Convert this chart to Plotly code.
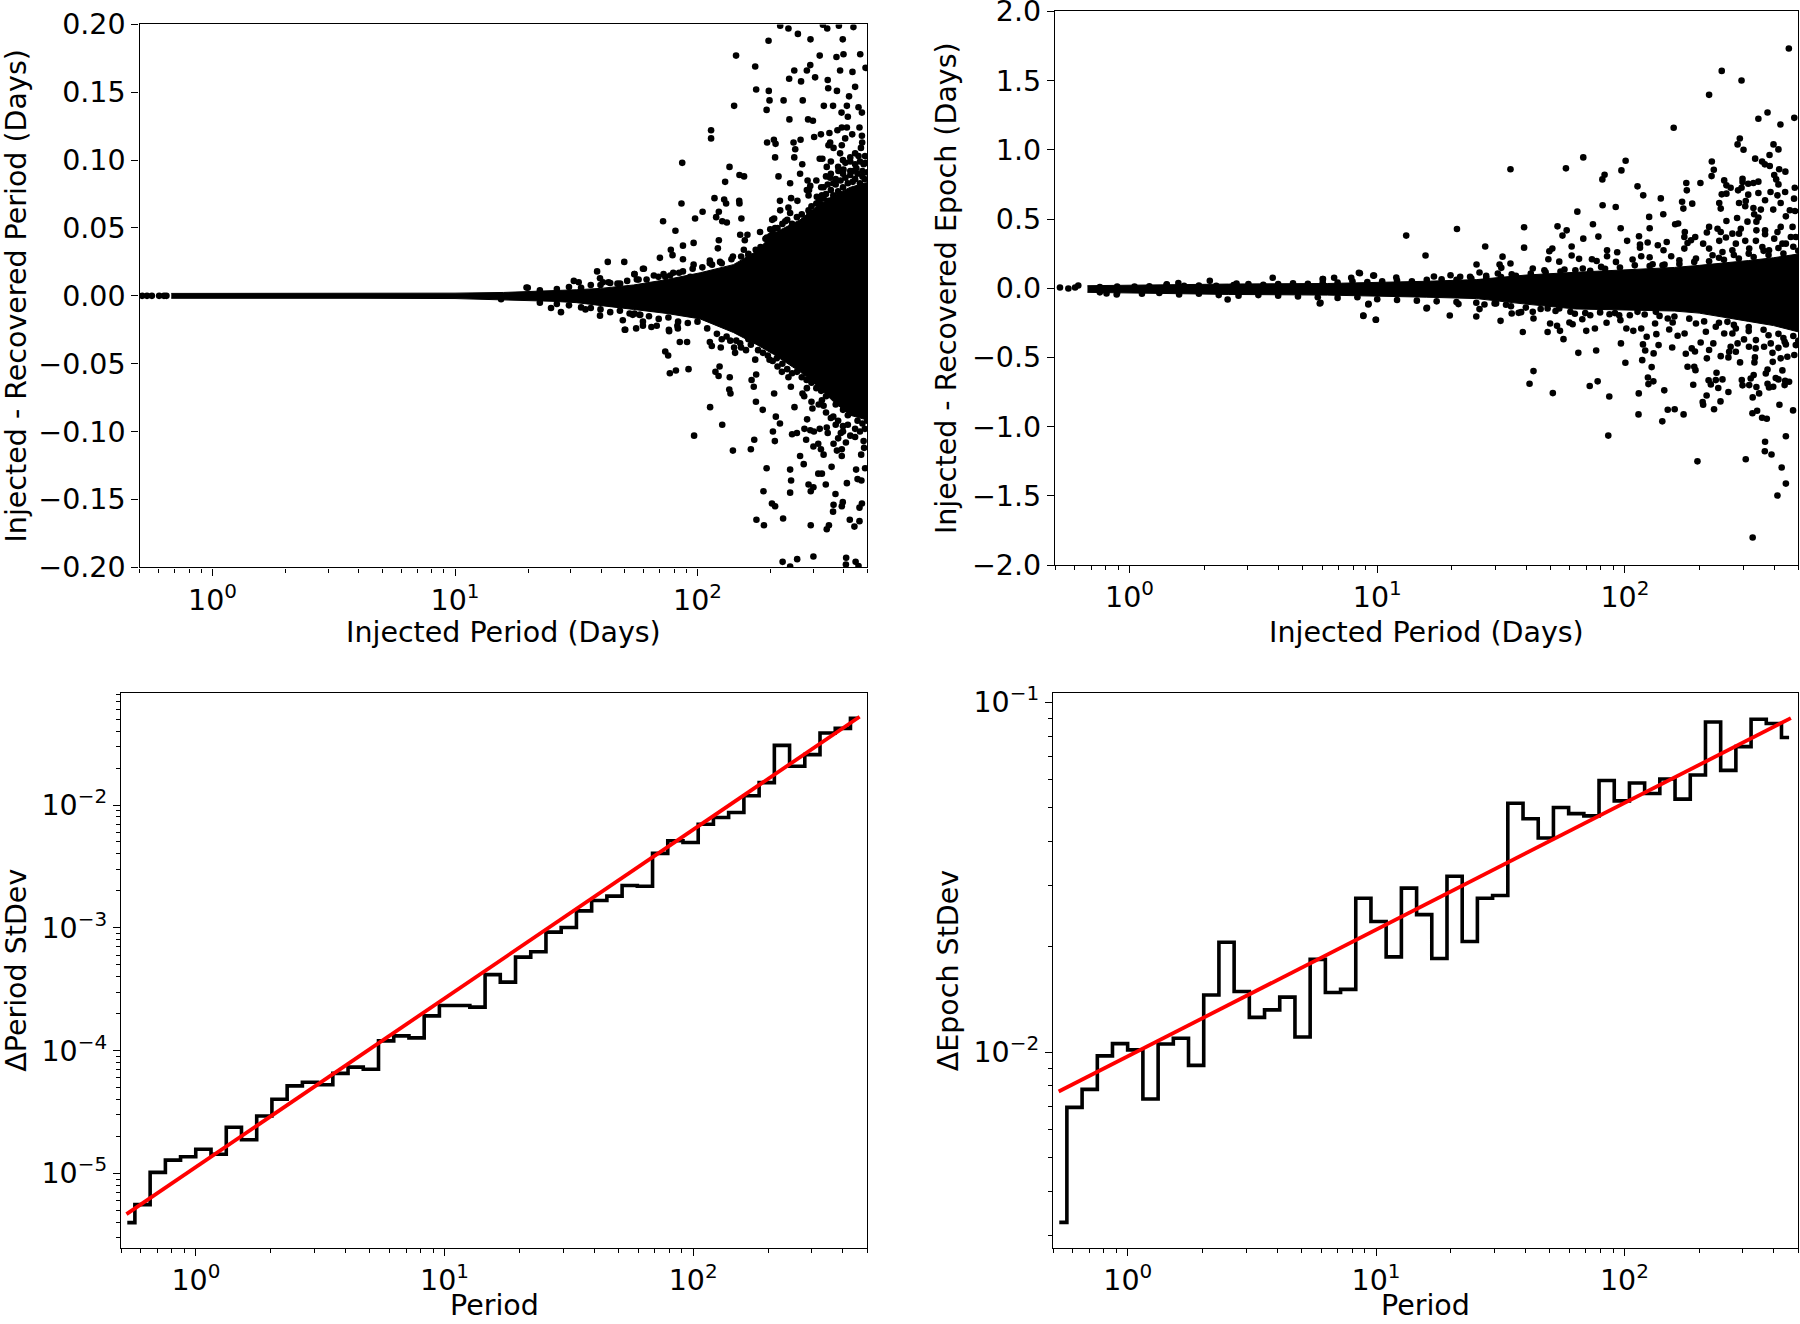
import plotly.graph_objects as go

W, H = 1800, 1324

# Histogram bin centres (days) shared by both lower panels
bin_period = [0.530,0.610,0.703,0.809,0.931,1.072,1.235,1.422,1.637,1.885,2.170,2.499,2.877,3.313,3.814,4.392,5.057,5.823,6.704,7.719,8.888,10.23,11.78,13.57,15.62,17.98,20.71,23.84,27.45,31.61,36.40,41.91,48.25,55.56,63.97,73.65,84.80,97.64,112.4,129.4,149.0,171.6,197.6,227.5,261.9,301.6,347.2,399.8,460.3]

period_stdev = [3.98e-6,5.57e-6,1.02e-5,1.285e-5,1.368e-5,1.574e-5,1.432e-5,2.38e-5,1.88e-5,2.94e-5,4.02e-5,5.16e-5,5.53e-5,5.28e-5,6.53e-5,7.34e-5,7.06e-5,1.20e-4,1.32e-4,1.27e-4,1.92e-4,2.33e-4,2.33e-4,2.26e-4,4.16e-4,3.61e-4,5.77e-4,6.39e-4,9.23e-4,1.005e-3,1.374e-3,1.67e-3,1.81e-3,2.21e-3,2.18e-3,4.04e-3,5.11e-3,4.95e-3,6.98e-3,7.91e-3,8.69e-3,1.19e-2,1.52e-2,3.06e-2,2.07e-2,2.57e-2,3.86e-2,4.21e-2,5.08e-2]

epoch_stdev = [3.26e-3,6.95e-3,7.82e-3,9.75e-3,1.057e-2,1.014e-2,7.34e-3,1.054e-2,1.095e-2,9.16e-3,1.455e-2,2.06e-2,1.49e-2,1.256e-2,1.32e-2,1.435e-2,1.104e-2,1.84e-2,1.48e-2,1.51e-2,2.75e-2,2.36e-2,1.87e-2,2.94e-2,2.47e-2,1.85e-2,3.18e-2,2.07e-2,2.75e-2,2.80e-2,5.14e-2,4.64e-2,4.09e-2,5.00e-2,4.80e-2,4.73e-2,5.97e-2,5.22e-2,5.87e-2,5.48e-2,6.03e-2,5.28e-2,6.19e-2,8.77e-2,6.38e-2,7.46e-2,8.93e-2,8.69e-2,7.92e-2]

fit_period = [0.526, 467]
fit_period_stdev = [4.66e-6, 5.23e-2]
fit_epoch_period = [0.527, 468]
fit_epoch_stdev = [7.71e-3, 9.0e-2]

# Dense core of the scatter, read as an envelope: log10(period), upper, lower
core1_logp = [-0.17,0.6,1.0,1.2,1.4,1.5,1.6,1.736,1.874,2.011,2.148,2.245,2.313,2.423,2.492,2.561,2.63,2.71]
core1_up = [.0018,.0018,.002,.0025,.0035,.0045,.0055,.008,.012,.017,.023,.033,.046,.056,.066,.074,.080,.084]
core1_lo = [-.0018,-.0018,-.002,-.003,-.004,-.005,-.007,-.010,-.013,-.017,-.027,-.036,-.043,-.056,-.066,-.078,-.088,-.092]

core2_logp = [-0.17,0.0,0.4,0.8,1.0,1.2,1.4,1.6,1.8,2.0,2.2,2.3,2.4,2.5,2.6,2.71]
core2_up = [.018,.022,.03,.034,.04,.05,.062,.095,.115,.13,.15,.165,.18,.20,.22,.25]
core2_lo = [-.030,-.038,-.045,-.05,-.055,-.065,-.075,-.115,-.15,-.16,-.165,-.18,-.21,-.24,-.27,-.32]

# Individually visible points: (log10 injected period, residual)
period_row = [(-0.29,0),(-0.27,0),(-0.25,0),(-0.22,0),(-0.20,0),(-0.19,0),(1.19,-.0025),(1.30,.006)]
period_above = [(2.341,.199),(2.375,.197),(2.414,.193),(2.466,.189),(2.293,.188),(2.599,.189),(2.535,.197),(2.583,.199),(2.643,.198),(2.517,.1997),
(2.159,.177),(2.238,.169),(2.504,.177),(2.573,.176),(2.602,.178),(2.671,.178),(2.693,.168),(2.465,.170),(2.451,.166),(2.399,.166),(2.588,.166),(2.639,.165),
(2.378,.160),(2.427,.158),(2.485,.161),(2.537,.159),(2.539,.153),(2.575,.151),(2.650,.154),(2.625,.147),(2.242,.152),(2.294,.151),(2.297,.144),(2.355,.144),(2.434,.144),
(2.151,.140),(2.285,.137),(2.521,.140),(2.559,.140),(2.616,.140),(2.594,.135),(2.664,.139),(2.678,.135),(2.620,.132),(2.379,.130),(2.456,.130),(2.476,.129),(2.056,.122),(2.056,.116),
(2.668,.124),(2.616,.124),(2.595,.124),(2.577,.122),(2.544,.120),(2.509,.119),(2.481,.117),(2.638,.119),(2.678,.118),(2.609,.116),(2.679,.113),(2.425,.115),(2.396,.113),(2.315,.115),(2.287,.113),(2.322,.112),
(2.547,.113),(2.540,.111),(2.595,.111),(2.561,.109),(2.674,.109),(2.403,.108),(2.588,.105),(2.320,.102),(2.399,.102),(2.504,.101),(2.515,.101),(2.550,.099),(2.533,.095),(2.650,.105),(2.664,.103),(2.691,.103),
(2.630,.099),(2.650,.097),(2.693,.098),(2.432,.097),(1.937,.098),(2.132,.095),(2.423,.090),(2.173,.089),(2.192,.088),(2.334,.088),(2.114,.084),(2.382,.083),(2.454,.085),(2.465,.081),(2.451,.078),(2.547,.087),(2.537,.082),
(2.581,.092),(2.602,.093),(2.630,.092),(2.680,.092),(2.458,.074),(2.070,.072),(2.110,.071),(2.118,.068),(2.172,.070),(2.173,.068),(1.934,.068),(2.340,.070),(2.386,.072),(2.412,.070),(2.492,.073),(2.513,.074),
(2.021,.062),(2.088,.062),(2.077,.058),(1.990,.057),(2.102,.055),(2.121,.054),(2.181,.057),(1.858,.055),(1.909,.048),(2.341,.063),(2.375,.065),(2.382,.061),(2.308,.056),(2.316,.057),(2.362,.055),(2.458,.063),(2.506,.068),
(2.258,.047),(2.300,.049),(2.320,.050),(2.176,.045),(2.206,.045),(2.195,.041),(2.286,.043),(2.348,.046),(1.984,.039),(2.088,.041),(1.940,.037),(2.084,.035),(1.890,.034),(1.897,.030),(2.191,.034),(1.845,.028),(1.940,.027),
(1.984,.023),(2.051,.026),(2.051,.024),(2.093,.025),(2.146,.029),(2.210,.030),(2.245,.033),(1.630,.025),(1.698,.025),(1.779,.020),(1.740,.016),(1.757,.012),(1.839,.014),(1.867,.014),(1.887,.015),(1.924,.017),(1.970,.014),
(1.633,.010),(1.681,.009),(1.49,.011),(1.51,.010),(1.295,.0062),(1.586,.018),(1.598,.013),(1.61,.010),(1.775,.020),(1.74,.016)]
period_below = [(1.396,-.009),(1.437,-.012),(1.538,-.010),(1.598,-.0146),(1.70,-.025),(1.747,-.024),(1.775,-.022),(1.81,-.023),(1.882,-.025),(1.692,-.018),(1.74,-.013),(1.917,-.022),
(1.702,-.025),(1.775,-.019),(1.832,-.022),(1.883,-.026),(1.919,-.024),(1.733,-.014),(1.764,-.014),(1.927,-.034),(1.957,-.034),(1.867,-.041),(1.879,-.044),(1.886,-.057),(1.911,-.055),(1.963,-.054),
(2.051,-.034),(2.059,-.037),(2.096,-.038),(2.135,-.033),(2.151,-.038),(2.155,-.042),(2.176,-.035),(2.21,-.032),(2.091,-.052),(2.074,-.056),(2.087,-.059),(2.133,-.060),(2.131,-.069),(2.136,-.072),(2.052,-.082),(2.102,-.095),(1.986,-.103),
(2.146,-.114),(2.220,-.113),(2.234,-.106),(2.241,-.078),(2.269,-.084),(2.316,-.072),(2.323,-.089),(2.340,-.094),(2.311,-.100),(2.319,-.107),(2.223,-.062),(2.232,-.067),(2.242,-.058),(2.238,-.047),(2.297,-.047),(2.327,-.046),
(2.348,-.056),(2.375,-.060),(2.385,-.067),(2.400,-.082),(2.474,-.083),(2.433,-.072),(2.451,-.068),(2.513,-.077),(2.520,-.081),(2.452,-.091),(2.441,-.098),(2.465,-.099),(2.480,-.100),(2.504,-.098),(2.533,-.097),(2.537,-.101),(2.591,-.101),
(2.390,-.102),(2.410,-.101),(2.448,-.106),(2.478,-.111),(2.498,-.109),(2.509,-.113),(2.520,-.117),(2.561,-.109),(2.575,-.114),(2.595,-.118),(2.612,-.108),(2.595,-.113),(2.685,-.107),(2.687,-.112),(2.675,-.117),(2.691,-.127),(2.654,-.128),
(2.423,-.118),(2.438,-.124),(2.553,-.126),(2.285,-.127),(2.382,-.128),(2.386,-.136),(2.382,-.145),(2.272,-.144),(2.307,-.153),(2.320,-.155),(2.353,-.164),(2.243,-.165),(2.274,-.169),(2.458,-.139),(2.478,-.141),(2.467,-.144),(2.498,-.131),(2.513,-.131),
(2.529,-.139),(2.569,-.146),(2.616,-.138),(2.660,-.135),(2.676,-.136),(2.561,-.154),(2.559,-.159),(2.599,-.152),(2.595,-.155),(2.678,-.153),(2.668,-.156),(2.467,-.169),(2.542,-.169),(2.533,-.172),(2.628,-.165),(2.647,-.170),(2.668,-.166),
(2.351,-.196),(2.411,-.194),(2.478,-.192),(2.613,-.193),(2.612,-.198),(2.652,-.196),(2.664,-.199),(2.382,-.1995)]

# Points crowding the edge of the dense core
period_edge_up = [(1.35,.004),(1.42,.005),(1.47,.0065),(1.52,.006),(1.56,.008),(1.60,.008),(1.64,.0095),(1.67,.009),(1.71,.011),(1.75,.012),(1.79,.012),(1.82,.015),(1.86,.016),(1.90,.017),(1.94,.018),(1.98,.020),(2.02,.021),(2.06,.023),(2.10,.024),(2.14,.027),(2.18,.029),(2.21,.031),(2.24,.034),
(2.26,.036),(2.28,.042),(2.30,.044),(2.31,.047),(2.33,.050),(2.35,.053),(2.37,.056),(2.39,.053),(2.41,.058),(2.43,.060),(2.44,.055),(2.46,.062),(2.47,.066),(2.48,.060),(2.50,.070),(2.51,.066),(2.52,.072),(2.53,.075),(2.54,.070),(2.55,.078),(2.56,.074),(2.57,.082),(2.58,.077),(2.59,.085),(2.60,.080),(2.61,.087),(2.62,.083),(2.63,.089),(2.64,.084),(2.65,.086),(2.66,.090),(2.67,.083),(2.68,.088),(2.69,.086),(2.70,.091),(2.52,.080),(2.49,.068),(2.56,.083),(2.60,.090),(2.64,.092),
(2.46,.078),(2.49,.085),(2.51,.080),(2.55,.090),(2.58,.095),(2.61,.098),(2.63,.102),(2.655,.094),(2.67,.099),(2.685,.097),(2.60,.100),(2.57,.086),(2.53,.088)]
period_edge_lo = [(1.35,-.005),(1.42,-.006),(1.47,-.007),(1.52,-.0085),(1.56,-.009),(1.60,-.010),(1.64,-.012),(1.68,-.011),(1.72,-.013),(1.76,-.014),(1.80,-.015),(1.84,-.017),(1.88,-.016),(1.92,-.019),(1.96,-.020),(2.0,-.019),(2.04,-.024),(2.08,-.028),
(2.10,-.032),(2.12,-.030),(2.16,-.033),(2.18,-.038),(2.20,-.040),(2.22,-.036),(2.25,-.040),(2.27,-.042),(2.29,-.044),(2.31,-.048),(2.33,-.052),(2.35,-.050),(2.37,-.054),(2.39,-.057),(2.41,-.056),(2.43,-.060),(2.45,-.062),(2.47,-.064),(2.49,-.068),(2.51,-.070),(2.53,-.074),(2.55,-.072),(2.57,-.080),(2.59,-.079),(2.60,-.084),(2.62,-.088),(2.64,-.086),(2.66,-.092),(2.68,-.094),(2.70,-.092),(2.56,-.089),(2.58,-.092),(2.60,-.096),(2.62,-.095),(2.65,-.098),
(2.50,-.080),(2.53,-.086),(2.55,-.090),(2.57,-.095),(2.60,-.100),(2.63,-.103),(2.65,-.104),(2.67,-.100),(2.69,-.098),(2.47,-.078),(2.44,-.074),(2.58,-.105)]

epoch_row = [(-0.281,.005),(-0.247,-.002),(-0.22,.005),(-0.207,.02),(0.324,.053),(0.396,-.082),(0.15,.029),(0.197,.038),(0.432,.034),(-0.052,-.046),(-0.093,-.038),(0.771,-.106),(0.944,-.197),(0.995,-.228),(0.965,-.112),(0.984,.091),(0.926,.112),(0.78,.067),(1.199,-.146)]
epoch_above = [(2.662,1.732),(2.391,1.570),(2.471,1.501),(2.340,1.397),(2.576,1.270),(2.539,1.224),(2.684,1.231),(2.628,1.183),(2.197,1.159),(2.464,1.082),(2.455,1.039),(2.479,1.000),(2.600,1.039),(2.620,1.003),(2.584,.962),(2.526,.936),(2.554,.916),(2.565,.895),(2.585,.883),
(1.832,.945),(1.762,.866),(2.003,.921),(1.986,.851),(1.918,.820),(1.909,.786),(2.351,.916),(2.359,.856),(2.350,.810),(2.623,.859),(2.648,.842),(2.603,.818),(2.611,.786),(2.620,.750),(2.051,.736),(2.074,.671),(2.248,.760),(2.250,.707),(2.305,.760),
(2.401,.779),(2.410,.743),(2.427,.726),(2.475,.791),(2.475,.767),(2.498,.755),(2.519,.760),(2.539,.770),(2.457,.707),(2.471,.726),(2.498,.676),(2.539,.688),(2.588,.695),(2.647,.695),(2.616,.671),(2.686,.726),(2.683,.647),(2.391,.678),(2.410,.683),(2.566,.635),
(2.145,.649),(2.231,.625),(2.272,.611),(2.381,.616),(2.387,.575),(2.461,.616),(2.488,.630),(2.486,.592),(1.910,.599),(1.963,.587),(1.808,.553),(2.236,.575),(2.519,.580),(2.549,.568),(2.599,.568),(2.629,.616),(2.666,.563),(2.687,.558),
(2.098,.515),(2.155,.534),(2.453,.507),(2.522,.534),(2.539,.510),(2.650,.519),(1.871,.462),(1.593,.440),(1.728,.447),(1.765,.418),(1.748,.380),(1.983,.433),(2.100,.433),(2.203,.462),(2.215,.467),(2.410,.486),(2.495,.481),(2.531,.481),
(1.832,.358),(1.893,.373),(2.057,.375),(2.009,.342),(1.593,.293),(1.785,.301),(1.707,.286),(1.695,.267),(2.092,.330),(2.169,.334),(2.061,.315),(2.061,.293),(2.133,.310),(2.156,.274),(1.928,.274),(1.969,.260),(1.691,.209),(1.785,.236),(1.735,.192),(1.815,.212),(1.867,.209),(1.886,.197),(1.928,.231),(2.100,.224),(2.066,.231),(2.187,.231),(2.220,.202),
(2.242,.406),(2.240,.370),(2.284,.370),(2.267,.346),(2.253,.327),(2.316,.322),(2.340,.443),(2.331,.402),(2.374,.430),(2.387,.406),(2.408,.366),(2.381,.342),(2.434,.394),(2.468,.430),(2.461,.394),(2.486,.342),(2.529,.342),(2.531,.418),(2.566,.418),(2.566,.390),(2.603,.358),(2.629,.443),(2.616,.406),(2.677,.443),(2.670,.370),(2.650,.322),(2.690,.370),(2.240,.286),(2.340,.286),(2.448,.322),(2.555,.298),
(1.628,.142),(1.675,.130),(1.756,.135),(1.830,.142),(1.904,.154),(1.964,.190),(2.031,.207),(2.112,.173),(2.152,.166),(2.287,.214),(2.354,.238),(2.394,.262),(2.434,.274),(2.502,.286),(2.582,.274),(2.636,.322),
(1.538,.859),(1.322,.428),(1.117,.380),(1.436,.301),(1.195,.236),(1.506,.228),(1.401,.171),(1.538,.178),(1.494,.171),(1.501,.147),(1.413,.113),(0.930,.108),(0.987,.091),(0.578,.075),(0.781,.067),(0.826,.075),(0.895,.075),(1.296,.094),(1.335,.082),(1.229,.084),(1.077,.077),(1.375,.082),(1.440,.089),(1.487,.106),(1.543,.101)]
epoch_below = [(0.768,-.111),(0.964,-.118),(0.944,-.200),(0.994,-.228),(1.201,-.142),(1.293,-.197),(1.400,-.204),(1.498,-.236),(1.328,-.115),(1.413,-.151),(1.433,-.118),(1.543,-.183),(1.571,-.178),(1.474,-.11),(1.52,-.12),
(2.516,-1.801),(2.616,-1.498),(2.650,-1.412),(2.633,-1.296),(2.293,-1.251),(2.488,-1.236),(2.565,-1.178),(2.592,-1.202),(2.566,-1.109),(2.650,-1.070),(1.933,-1.065),(2.151,-.962),(2.055,-.912),(2.173,-.878),(2.201,-.875),(2.237,-.912),(1.937,-.782),(2.056,-.760),(1.709,-.758),(1.615,-.690),(1.631,-.599),(1.858,-.707),(1.890,-.673),
(1.812,-.467),(1.884,-.450),(1.984,-.399),(2.002,-.539),(2.070,-.520),(2.082,-.450),(2.073,-.406),(2.088,-.351),(2.127,-.332),(2.116,-.471),(2.136,-.411),(2.108,-.570),(2.093,-.645),(2.115,-.673),(2.095,-.693),(2.159,-.738),(2.191,-.428),(2.213,-.344),(2.241,-.327),(2.246,-.474),(2.270,-.435),(2.283,-.457),(2.306,-.392),
(2.253,-.568),(2.280,-.568),(2.285,-.592),(2.276,-.698),(2.330,-.775),(2.314,-.823),(2.316,-.842),(2.360,-.875),(2.386,-.818),(2.418,-.750),(2.370,-.611),(2.338,-.666),(2.347,-.695),(2.367,-.664),(2.377,-.721),(2.394,-.659),(2.331,-.507),(2.340,-.447),(2.357,-.399),(2.387,-.491),(2.418,-.500),(2.421,-.459),(2.427,-.423),(2.448,-.459),(2.455,-.399),(2.481,-.370),
(2.465,-.536),(2.525,-.500),(2.523,-.536),(2.472,-.664),(2.475,-.702),(2.502,-.700),(2.508,-.652),(2.520,-.628),(2.531,-.714),(2.542,-.760),(2.516,-.789),(2.515,-.904),(2.534,-.885),(2.554,-.936),(2.573,-.943),(2.624,-.842),(2.679,-.883),(2.576,-.690),(2.582,-.717),(2.599,-.712),(2.569,-.616),(2.576,-.587),(2.597,-.532),(2.636,-.594),(2.609,-.649),(2.620,-.659),(2.647,-.669),(2.663,-.676),(2.645,-.700),
(2.629,-.507),(2.656,-.495),(2.620,-.431),(2.645,-.387),(2.650,-.406),(2.596,-.467),(2.528,-.435),(2.501,-.423),(2.562,-.423),(2.589,-.399),(2.529,-.375),(2.690,-.411),(2.684,-.483),(1.588,-.317),(1.688,-.317),(1.631,-.219),(1.738,-.308),(1.752,-.368),(1.698,-.255),(1.726,-.272),(1.776,-.248),(1.789,-.260),(1.828,-.224),(1.844,-.308),(1.879,-.291),(1.926,-.250),(1.982,-.231),(2.006,-.291),(2.034,-.308),(2.066,-.291),(2.122,-.255),(2.179,-.298),(2.193,-.248),(2.173,-.219),
(1.798,-.185),(1.860,-.195),(1.938,-.188),(1.977,-.195),(1.581,-.173),(1.628,-.171),(1.688,-.147),(1.735,-.147),(2.051,-.171),(2.125,-.171),(2.287,-.255),(2.327,-.315),(2.367,-.279),(2.401,-.327),(2.434,-.327),(2.448,-.291),(2.414,-.243)]

epoch_edge_up = [(-0.12,.008),(-0.05,.012),(0.02,.012),(0.08,.014),(0.15,.025),(0.22,.018),(0.28,.02),(0.35,.018),(0.42,.022),(0.48,.03),(0.54,.025),(0.60,.03),(0.66,.035),(0.72,.032),(0.78,.04),(0.84,.04),(0.90,.05),(0.96,.045),(1.02,.05),(1.08,.055),(1.14,.05),(1.2,.06),(1.26,.065),(1.32,.06),(1.38,.07),(1.44,.075),(1.5,.08),(1.56,.09),(1.62,.105),(1.68,.115),(1.74,.12),(1.80,.13),(1.86,.125),(1.92,.14),(1.98,.15),(2.04,.165),(2.10,.16),(2.16,.17),(2.22,.175),(2.28,.19),(2.34,.195),(2.40,.205),(2.46,.215),(2.52,.225),(2.58,.24),(2.64,.25),(2.70,.27),(2.38,.22),(2.44,.24),(2.50,.25),(2.56,.27),(2.62,.29),(2.68,.30)]
epoch_edge_lo = [(-0.12,-.03),(-0.05,-.035),(0.05,-.04),(0.12,-.035),(0.2,-.045),(0.28,-.04),(0.36,-.05),(0.44,-.055),(0.52,-.05),(0.6,-.055),(0.68,-.06),(0.76,-.065),(0.84,-.07),(0.92,-.065),(1.0,-.08),(1.08,-.085),(1.16,-.09),(1.24,-.095),(1.32,-.10),(1.40,-.105),(1.48,-.11),(1.54,-.13),(1.60,-.14),(1.66,-.15),(1.72,-.165),(1.78,-.17),(1.84,-.18),(1.90,-.175),(1.96,-.18),(2.02,-.195),(2.08,-.19),(2.14,-.2),(2.20,-.205),(2.26,-.22),(2.32,-.24),(2.38,-.25),(2.44,-.265),(2.50,-.28),(2.56,-.30),(2.62,-.33),(2.68,-.345),(2.5,-.31),(2.58,-.34),(2.64,-.36),(2.70,-.38)]

tick_period = [1, 10, 100]
tick_period_text = ["10<sup>0</sup>", "10<sup>1</sup>", "10<sup>2</sup>"]
tick_dperiod = [1e-5, 1e-4, 1e-3, 1e-2]
tick_dperiod_text = ["10<sup>−5</sup>", "10<sup>−4</sup>", "10<sup>−3</sup>", "10<sup>−2</sup>"]
tick_depoch = [1e-2, 1e-1]
tick_depoch_text = ["10<sup>−2</sup>", "10<sup>−1</sup>"]
minor_period = [0.5,0.6,0.7,0.8,0.9,2,3,4,5,6,7,8,9,20,30,40,50,60,70,80,90,200,300,400,500]
minor_dperiod = [3e-6,4e-6,5e-6,6e-6,7e-6,8e-6,9e-6,2e-5,3e-5,4e-5,5e-5,6e-5,7e-5,8e-5,9e-5,2e-4,3e-4,4e-4,5e-4,6e-4,7e-4,8e-4,9e-4,2e-3,3e-3,4e-3,5e-3,6e-3,7e-3,8e-3,9e-3,2e-2,3e-2,4e-2,5e-2,6e-2,7e-2,8e-2]
minor_depoch = [3e-3,4e-3,5e-3,6e-3,7e-3,8e-3,9e-3,2e-2,3e-2,4e-2,5e-2,6e-2,7e-2,8e-2,9e-2]

FONT = "DejaVu Sans"
FS = 28.5
INK = "#000000"


def box(x0, x1, y0, y1):
    return [x0 / W, x1 / W], [1 - y1 / H, 1 - y0 / H]


def common(dom, anchor, title=None):
    axis = dict(domain=dom, anchor=anchor, ticks="outside", ticklen=7, tickwidth=1.2, tickcolor=INK, showline=True, linecolor=INK,
                linewidth=1.4, mirror=True, showgrid=False, zeroline=False, ticklabeloverflow="allow",
                tickfont=dict(family=FONT, size=FS, color=INK), automargin=False)
    if title:
        axis["title"] = dict(text=title, font=dict(family=FONT, size=FS, color=INK), standoff=6)
    return axis


def minor_ticks(vals):
    return dict(tickmode="array", tickvals=vals, ticks="outside", ticklen=4, tickwidth=1, tickcolor=INK, showgrid=False)


def xaxis(dom, anchor):
    return dict(common(dom, anchor), type="log", range=[-0.30103, 2.69897], tickmode="array",
                tickvals=tick_period, ticktext=tick_period_text, minor=minor_ticks(minor_period))


def yaxis_lin(dom, anchor, title, lim, tvals, fmt):
    return dict(common(dom, anchor, title), range=list(lim), tickmode="array", tickvals=tvals, tickformat=fmt)


def yaxis_log(dom, anchor, title, lim, tvals, ttext, minor):
    return dict(common(dom, anchor, title), type="log", range=list(lim), tickmode="array", tickvals=tvals, ticktext=ttext, minor=minor_ticks(minor))


def core_trace(logp, up, lo, xa, ya):
    xs = [10 ** v for v in logp] + [10 ** v for v in logp[::-1]]
    ys = up + lo[::-1]
    return go.Scatter(x=xs, y=ys, xaxis=xa, yaxis=ya, mode="lines", fill="toself", fillcolor=INK,
                      line=dict(color=INK, width=1), hoverinfo="skip", showlegend=False)


def points_trace(points, xa, ya):
    return go.Scatter(x=[10 ** p[0] for p in points], y=[p[1] for p in points], xaxis=xa, yaxis=ya, mode="markers",
                      marker=dict(color=INK, size=6.6, line=dict(width=0)), showlegend=False)


def x_title(text, dom, y_px):
    return dict(text=text, xref="paper", yref="paper", x=(dom[0] + dom[1]) / 2, y=1 - y_px / H, xanchor="center", yanchor="middle",
                showarrow=False, font=dict(family=FONT, size=FS, color=INK))


fig = go.Figure()
fig.add_trace(core_trace(core1_logp, core1_up, core1_lo, "x", "y"))
fig.add_trace(points_trace(period_row + period_above + period_below + period_edge_up + period_edge_lo, "x", "y"))
fig.add_trace(core_trace(core2_logp, core2_up, core2_lo, "x2", "y2"))
fig.add_trace(points_trace(epoch_row + epoch_above + epoch_below + epoch_edge_up + epoch_edge_lo, "x2", "y2"))
fig.add_trace(go.Scatter(x=bin_period, y=period_stdev, xaxis="x3", yaxis="y3", mode="lines", line=dict(color=INK, width=3.6, shape="hvh"), showlegend=False))
fig.add_trace(go.Scatter(x=fit_period, y=fit_period_stdev, xaxis="x3", yaxis="y3", mode="lines", line=dict(color="#ff0000", width=3.8), showlegend=False))
fig.add_trace(go.Scatter(x=bin_period, y=epoch_stdev, xaxis="x4", yaxis="y4", mode="lines", line=dict(color=INK, width=3.6, shape="hvh"), showlegend=False))
fig.add_trace(go.Scatter(x=fit_epoch_period, y=fit_epoch_stdev, xaxis="x4", yaxis="y4", mode="lines", line=dict(color="#ff0000", width=3.8), showlegend=False))

dx1, dy1 = box(139.5, 867, 24.4, 567.3)
dx2, dy2 = box(1055, 1798, 11.4, 565)
dx3, dy3 = box(121, 867, 692.5, 1248)
dx4, dy4 = box(1053, 1798, 693, 1248)

fig.update_layout(
    width=W, height=H, margin=dict(l=0, r=0, t=0, b=0), paper_bgcolor="white", plot_bgcolor="white", showlegend=False,
    xaxis=xaxis(dx1, "y"),
    yaxis=yaxis_lin(dy1, "x", "Injected - Recovered Period (Days)", (-0.2, 0.2), [-0.2, -0.15, -0.1, -0.05, 0, 0.05, 0.1, 0.15, 0.2], ".2f"),
    xaxis2=xaxis(dx2, "y2"),
    yaxis2=yaxis_lin(dy2, "x2", "Injected - Recovered Epoch (Days)", (-2, 2), [-2, -1.5, -1, -0.5, 0, 0.5, 1, 1.5, 2], ".1f"),
    xaxis3=xaxis(dx3, "y3"),
    yaxis3=yaxis_log(dy3, "x3", "ΔPeriod StDev", (-5.607, -1.084), tick_dperiod, tick_dperiod_text, minor_dperiod),
    xaxis4=xaxis(dx4, "y4"),
    yaxis4=yaxis_log(dy4, "x4", "ΔEpoch StDev", (-2.56, -0.974), tick_depoch, tick_depoch_text, minor_depoch),
    annotations=[
        x_title("Injected Period (Days)", dx1, 632),
        x_title("Injected Period (Days)", dx2, 632),
        x_title("Period", dx3, 1305),
        x_title("Period", dx4, 1305),
    ],
)

fig.write_html("out.html", config=dict(displayModeBar=False), post_script="document.body.style.margin='0';")
